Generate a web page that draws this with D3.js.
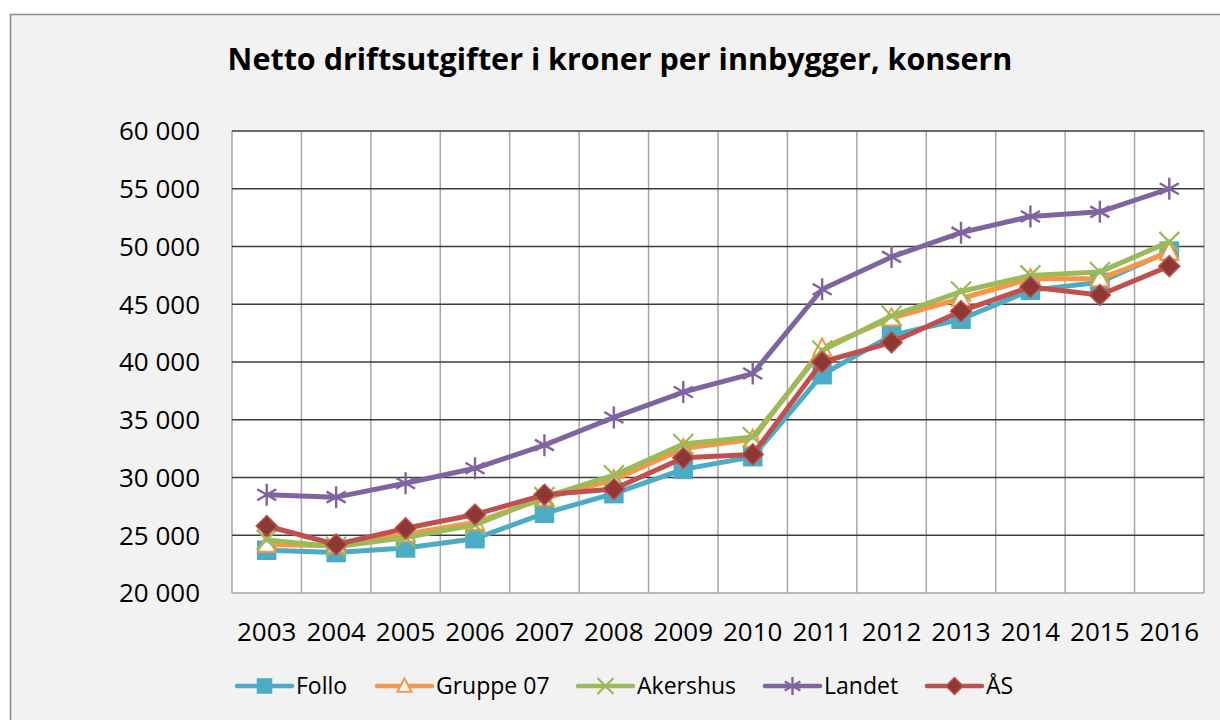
<!DOCTYPE html>
<html lang="no">
<head>
    <meta charset="UTF-8">
    <title>Netto driftsutgifter</title>
    <script src="https://d3js.org/d3.v7.min.js"></script>
    <style>
        body { margin: 0; background: #ffffff; }
        svg { display: block; }
        text { font-family: "Open Sans", "Noto Sans", sans-serif; fill: #000; }
        .title { font-weight: bold; }
    </style>
</head>
<body>
    <script>
        // data
        const years = ["2003", "2004", "2005", "2006", "2007", "2008", "2009",
                       "2010", "2011", "2012", "2013", "2014", "2015", "2016"];
        const follo    = [23700, 23500, 23900, 24700, 26900, 28600, 30700, 31800, 38900, 42300, 43700, 46200, 46900, 49600];
        const gruppe07 = [24200, 24100, 25100, 26100, 28200, 29800, 32500, 33300, 41200, 43800, 45500, 47200, 47200, 49500];
        const akershus = [24600, 24000, 24800, 25900, 28300, 30200, 32900, 33500, 41000, 44000, 46100, 47500, 47800, 50400];
        const landet   = [28500, 28300, 29500, 30800, 32800, 35200, 37400, 39000, 46300, 49100, 51200, 52600, 53000, 55000];
        const aas      = [25800, 24200, 25600, 26800, 28500, 29000, 31700, 32000, 40000, 41700, 44400, 46500, 45800, 48300];
        const yTicks   = [20000, 25000, 30000, 35000, 40000, 45000, 50000, 55000, 60000];

        const series = [
            {name: "Follo",     values: follo,    color: "#4bacc6", marker: "square"},
            {name: "Gruppe 07", values: gruppe07, color: "#f79646", marker: "triangle"},
            {name: "Akershus",  values: akershus, color: "#9bbb59", marker: "x"},
            {name: "Landet",    values: landet,   color: "#8064a2", marker: "star"},
            {name: "ÅS",        values: aas,      color: "#c0504d", marker: "diamond"}
        ];

        const width = 1220, height = 720;
        const plot = {left: 232, right: 1204, top: 131, bottom: 593};

        const svg = d3.select("body").append("svg")
            .attr("width", width)
            .attr("height", height);

        // outer chart frame
        svg.append("rect")
            .attr("x", 10.5).attr("y", 14.5)
            .attr("width", width + 10).attr("height", height + 10)
            .attr("fill", "#f2f2f2")
            .attr("stroke", "#8c8c8c")
            .attr("stroke-width", 1.5);

        const x = d3.scaleBand().domain(years).range([plot.left, plot.right]).padding(0);
        const y = d3.scaleLinear().domain([20000, 60000]).range([plot.bottom, plot.top]);

        const fmt = d3.formatLocale({decimal: ",", thousands: " ", grouping: [3], currency: ["", " kr"]}).format(",d");

        // plot area
        svg.append("rect")
            .attr("x", plot.left).attr("y", plot.top)
            .attr("width", plot.right - plot.left).attr("height", plot.bottom - plot.top)
            .attr("fill", "#ffffff");

        // vertical grid at category boundaries
        const bounds = years.map(d => x(d)).concat([plot.right]);
        svg.append("g").selectAll("line")
            .data(bounds)
            .enter().append("line")
            .attr("x1", d => d).attr("x2", d => d)
            .attr("y1", plot.top).attr("y2", plot.bottom)
            .attr("stroke", "#a6a6a6")
            .attr("stroke-width", 1.5);

        // horizontal grid
        svg.append("g").selectAll("line")
            .data(yTicks.filter(d => d > 20000))
            .enter().append("line")
            .attr("x1", plot.left).attr("x2", plot.right)
            .attr("y1", d => y(d)).attr("y2", d => y(d))
            .attr("stroke", "#3d3d3d")
            .attr("stroke-width", 1.5);

        // bottom axis line
        svg.append("line")
            .attr("x1", plot.left).attr("x2", plot.right)
            .attr("y1", y(20000)).attr("y2", y(20000))
            .attr("stroke", "#a6a6a6").attr("stroke-width", 1.5);

        // y labels
        svg.append("g").selectAll("text")
            .data(yTicks)
            .enter().append("text")
            .attr("x", 200)
            .attr("y", d => y(d))
            .attr("dy", "0.36em")
            .attr("text-anchor", "end")
            .style("font-size", "26px")
            .text(d => fmt(d));

        // x labels
        svg.append("g").selectAll("text")
            .data(years)
            .enter().append("text")
            .attr("x", d => x(d) + x.bandwidth() / 2)
            .attr("y", 641)
            .attr("text-anchor", "middle")
            .style("font-size", "26px")
            .text(d => d);

        // title, fitted to the original width
        const title = svg.append("text")
            .attr("class", "title")
            .attr("x", 620)
            .attr("y", 70)
            .attr("text-anchor", "middle")
            .style("font-size", "30px")
            .text("Netto driftsutgifter i kroner per innbygger, konsern");
        const tw = title.node().getComputedTextLength();
        title.style("font-size", (30 * 785 / tw) + "px");

        function drawMarker(g, type, color, s) {
            if (type === "square") {
                g.append("rect")
                    .attr("x", -s / 2).attr("y", -s / 2)
                    .attr("width", s).attr("height", s)
                    .attr("fill", color).attr("stroke", color).attr("stroke-width", 1.5);
            } else if (type === "triangle") {
                const h = s * 0.9;
                g.append("path")
                    .attr("d", `M0,${-h * 0.6}L${s / 2},${h * 0.45}L${-s / 2},${h * 0.45}Z`)
                    .attr("fill", "#ffffff").attr("stroke", color).attr("stroke-width", 2);
            } else if (type === "x") {
                const r = s / 2 + 1;
                g.append("path")
                    .attr("d", `M${-r},${-r}L${r},${r}M${-r},${r}L${r},${-r}`)
                    .attr("stroke", color).attr("stroke-width", 2.2).attr("fill", "none");
            } else if (type === "star") {
                const r = s / 2 + 2;
                const a = r * 0.87, b = r * 0.5;
                g.append("path")
                    .attr("d", `M0,${-r}L0,${r}M${-a},${-b}L${a},${b}M${-a},${b}L${a},${-b}`)
                    .attr("stroke", color).attr("stroke-width", 2.4).attr("fill", "none");
            } else if (type === "diamond") {
                const r = s / 2 + 1.5;
                g.append("path")
                    .attr("d", `M0,${-r}L${r},0L0,${r}L${-r},0Z`)
                    .attr("fill", "#8e3836").attr("stroke", color).attr("stroke-width", 1.5);
            }
        }

        const line = d3.line()
            .x((d, i) => x(years[i]) + x.bandwidth() / 2)
            .y(d => y(d));

        series.forEach(s => {
            const g = svg.append("g");
            g.append("path")
                .datum(s.values)
                .attr("d", line)
                .attr("fill", "none")
                .attr("stroke", s.color)
                .attr("stroke-width", 5)
                .attr("stroke-linejoin", "round")
                .attr("stroke-linecap", "round");
            g.selectAll("g.pt")
                .data(s.values)
                .enter().append("g")
                .attr("class", "pt")
                .attr("transform", (d, i) => `translate(${x(years[i]) + x.bandwidth() / 2},${y(d)})`)
                .each(function () { drawMarker(d3.select(this), s.marker, s.color, 18); });
        });

        // legend
        const legendX = [237, 377, 578, 765, 927];
        const legend = svg.append("g").selectAll("g")
            .data(series)
            .enter().append("g")
            .attr("transform", (d, i) => `translate(${legendX[i]},686)`);
        legend.append("line")
            .attr("x1", 0).attr("x2", 55)
            .attr("stroke", d => d.color)
            .attr("stroke-width", 4.5)
            .attr("stroke-linecap", "round");
        legend.append("g")
            .attr("transform", "translate(27.5,0)")
            .each(function (d) { drawMarker(d3.select(this), d.marker, d.color, 14); });
        legend.append("text")
            .attr("x", 59)
            .attr("y", 0)
            .attr("dy", "0.36em")
            .style("font-size", "23px")
            .text(d => d.name);
    </script>
</body>
</html>
